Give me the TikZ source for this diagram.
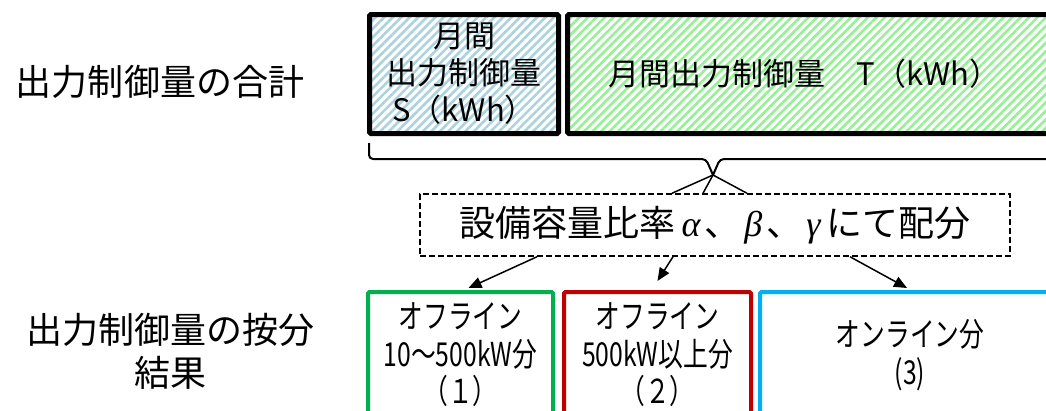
\documentclass[tikz,border=0pt]{standalone}
\usepackage{fontspec}
\setmainfont{Noto Sans CJK JP}
\newfontfamily\narrowjp{Noto Sans CJK JP}[FakeStretch=0.75]
\newfontfamily\greekit{Liberation Serif}
\newcommand\grk[1]{{\greekit\itshape #1}}
\usetikzlibrary{patterns.meta,arrows.meta,calc}

\definecolor{boxgreen}{RGB}{0,176,80}
\definecolor{boxred}{RGB}{192,0,0}
\definecolor{boxblue}{RGB}{0,176,240}
\definecolor{hatchblue}{RGB}{172,210,222}
\definecolor{hatchgreen}{RGB}{150,240,150}

\tikzset{
  rowtitle/.style={font=\fontsize{36}{43}\selectfont, align=center},
  totalbox/.style={draw=black, line width=5pt, rounded corners=1.5pt, inner sep=0pt,
    font=\fontsize{31}{37}\selectfont, align=center},
  sharebox/.style={line width=4pt, rounded corners=1.5pt, inner sep=0pt,
    minimum height=126pt, font=\narrowjp\fontsize{33}{37.5}\selectfont, align=center},
  arr/.style={-{Triangle[length=13pt,width=11pt]}, line width=1.5pt},
}

\begin{document}
\begin{tikzpicture}[x=1pt,y=-1pt]
\useasboundingbox (0,0) rectangle (1046,410);
\clip (0,0) rectangle (1046,410);

% row titles
\node[rowtitle] (sumtitle) at (160,82) {出力制御量の合計};
\node[rowtitle] (sharetitle) at (170,351) {出力制御量の按分\\結果};

% monthly totals
\node[totalbox, minimum width=189pt, minimum height=119pt,
  pattern={Lines[angle=45,distance=6pt,line width=2.6pt]}, pattern color=hatchblue]
  (S) at (464,74) {月間\\出力制御量\\S（kWh）};
\node[totalbox, minimum width=492.5pt, minimum height=119pt,
  pattern={Lines[angle=45,distance=6pt,line width=2.6pt]}, pattern color=hatchgreen]
  (T) at (813.75,74) {月間出力制御量　T（kWh）\hspace*{18pt}};

% brace
\coordinate (tip) at (713,175);
\draw[line width=2pt, rounded corners=4pt] (369,143) |- (706,159) -- (tip);
\draw[line width=2pt, rounded corners=4pt] (tip) -- (720,159) -| (1060,143);

\node[draw, dashed, dash pattern=on 6pt off 3pt, line width=1.5pt,
  minimum width=590pt, minimum height=62pt, font=\fontsize{36}{43}\selectfont]
  (ratio) at (715,225)
  {設備容量比率\,\grk{α}\hspace{4pt}、\hspace{4pt}\grk{β}\hspace{4pt}、\hspace{4pt}\grk{γ}\,にて配分};

\draw[line width=1.5pt] (tip) -- ($(ratio.north)+(-43,0)$);
\draw[line width=1.5pt] (tip) -- ($(ratio.north)+(-12,0)$);
\draw[line width=1.5pt] (tip) -- ($(ratio.north)+(32,0)$);

% allocation results
\node[sharebox, draw=boxgreen, minimum width=185pt] (off1) at (460.5,355)
  {オフライン\\10～500kW分\\（１）};
\node[sharebox, draw=boxred, minimum width=187pt] (off2) at (657.5,355)
  {オフライン\\500kW以上分\\（２）};
\node[sharebox, draw=boxblue, minimum width=300pt] (on) at (910,355)
  {オンライン分\\(3)};

\draw[arr] ($(ratio.south)+(-178,0)$) -- ($(off1.north)+(8,-2)$);
\draw[arr] ($(ratio.south)+(-42,0)$) -- ($(off2.north)+(0,-9)$);
\draw[arr] ($(ratio.south)+(135,0)$) -- ($(on.north)+(-3,-2)$);
\end{tikzpicture}
\end{document}
